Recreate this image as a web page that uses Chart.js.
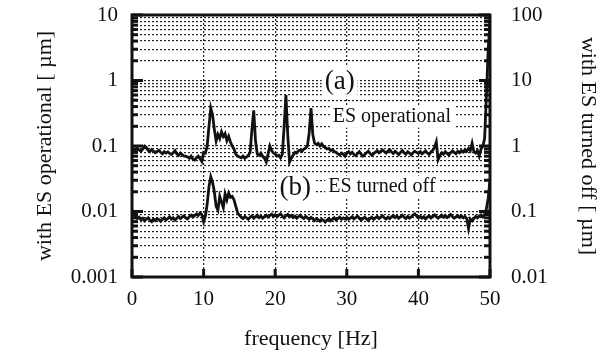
<!DOCTYPE html>
<html>
<head>
<meta charset="utf-8">
<script src="https://cdn.jsdelivr.net/npm/chart.js@4.4.1/dist/chart.umd.min.js"></script>
<style>
  html, body { margin: 0; padding: 0; background: #fff; }
  #wrap { width: 609px; height: 359px; }
</style>
</head>
<body>
<div id="wrap"><canvas id="spectrum" width="609" height="359"></canvas></div>
<script>
// frequency grid: 0 .. 50 Hz, 0.25 Hz steps
const freqStep = 0.25;

// (a) ES operational, left axis [um]
const esOperational = [
  0.09, 0.088, 0.085, 0.092, 0.087, 0.083, 0.09, 0.1, 0.095, 0.086, 0.082, 0.088, 0.084, 0.079, 0.083, 0.086, 0.08, 0.076, 0.082, 0.078,
  0.081, 0.077, 0.074, 0.079, 0.085, 0.076, 0.072, 0.078, 0.074, 0.07, 0.07, 0.068, 0.065, 0.07, 0.063, 0.061, 0.066, 0.07, 0.064, 0.058,
  0.08, 0.078, 0.1, 0.2, 0.38, 0.3, 0.18, 0.12, 0.15, 0.13, 0.165, 0.14, 0.155, 0.12, 0.14, 0.115, 0.1, 0.09, 0.075, 0.07,
  0.068, 0.066, 0.07, 0.065, 0.068, 0.072, 0.08, 0.18, 0.35, 0.12, 0.075, 0.072, 0.078, 0.07, 0.065, 0.057, 0.075, 0.1, 0.085, 0.078,
  0.075, 0.07, 0.072, 0.066, 0.075, 0.2, 0.6, 0.15, 0.057, 0.065, 0.072, 0.08, 0.078, 0.085, 0.087, 0.083, 0.09, 0.093, 0.1, 0.16,
  0.38, 0.15, 0.11, 0.105, 0.11, 0.1, 0.108, 0.098, 0.095, 0.09, 0.092, 0.085, 0.088, 0.082, 0.08, 0.076, 0.073, 0.078, 0.075, 0.07,
  0.078, 0.082, 0.076, 0.08, 0.074, 0.071, 0.077, 0.082, 0.075, 0.07, 0.074, 0.079, 0.083, 0.077, 0.072, 0.076, 0.081, 0.085, 0.079, 0.083,
  0.087, 0.082, 0.078, 0.084, 0.088, 0.081, 0.077, 0.083, 0.079, 0.074, 0.08, 0.085, 0.079, 0.075, 0.082, 0.078, 0.073, 0.079, 0.083, 0.08,
  0.077, 0.082, 0.076, 0.08, 0.084, 0.078, 0.074, 0.081, 0.086, 0.095, 0.115, 0.062, 0.072, 0.079, 0.075, 0.082, 0.077, 0.073, 0.079, 0.084,
  0.08, 0.076, 0.083, 0.079, 0.085, 0.081, 0.088, 0.083, 0.092, 0.085, 0.11, 0.082, 0.078, 0.085, 0.07, 0.09, 0.1, 0.13, 0.6, 3,
  8
];

// (b) ES turned off, right axis [um]
const esTurnedOff = [
  0.105, 0.09, 0.084, 0.078, 0.082, 0.075, 0.079, 0.072, 0.076, 0.08, 0.074, 0.07, 0.077, 0.073, 0.078, 0.075, 0.071, 0.076, 0.08, 0.074,
  0.078, 0.083, 0.076, 0.08, 0.074, 0.079, 0.084, 0.078, 0.082, 0.086, 0.08, 0.077, 0.083, 0.088, 0.082, 0.086, 0.092, 0.087, 0.095, 0.09,
  0.07, 0.085, 0.13, 0.24, 0.34, 0.28, 0.2, 0.12, 0.105, 0.17, 0.14, 0.115, 0.185, 0.15, 0.19, 0.165, 0.17, 0.15, 0.12, 0.095,
  0.088, 0.082, 0.078, 0.084, 0.08, 0.076, 0.082, 0.086, 0.079, 0.083, 0.088, 0.081, 0.085, 0.079, 0.084, 0.088, 0.082, 0.087, 0.091, 0.084,
  0.089, 0.083, 0.088, 0.092, 0.085, 0.08, 0.086, 0.09, 0.083, 0.087, 0.081, 0.085, 0.079, 0.083, 0.088, 0.082, 0.078, 0.084, 0.08, 0.076,
  0.081, 0.077, 0.073, 0.078, 0.075, 0.071, 0.076, 0.073, 0.069, 0.074, 0.078, 0.072, 0.076, 0.08, 0.074, 0.078, 0.082, 0.076, 0.08, 0.077,
  0.081, 0.076, 0.079, 0.083, 0.077, 0.081, 0.085, 0.079, 0.074, 0.078, 0.082, 0.077, 0.073, 0.078, 0.082, 0.076, 0.08, 0.084, 0.078, 0.082,
  0.086, 0.08, 0.077, 0.082, 0.078, 0.083, 0.087, 0.081, 0.085, 0.079, 0.083, 0.088, 0.082, 0.078, 0.084, 0.079, 0.083, 0.088, 0.092, 0.085,
  0.08, 0.084, 0.079, 0.083, 0.077, 0.082, 0.086, 0.08, 0.085, 0.089, 0.083, 0.079, 0.084, 0.088, 0.082, 0.087, 0.081, 0.085, 0.09, 0.084,
  0.079, 0.083, 0.087, 0.081, 0.086, 0.08, 0.084, 0.078, 0.055, 0.077, 0.072, 0.078, 0.084, 0.08, 0.085, 0.089, 0.083, 0.09, 0.11, 0.16,
  0.3
];

const freq = esOperational.map((_, i) => i * freqStep);

// axis ticks
const xTicks = [0, 10, 20, 30, 40, 50];
const leftDecades = [0.001, 0.01, 0.1, 1, 10];
const leftDecadeLabels = ['0.001', '0.01', '0.1', '1', '10'];
const rightDecades = [0.01, 0.1, 1, 10, 100];
const rightDecadeLabels = ['0.01', '0.1', '1', '10', '100'];
const minorSteps = [2, 3, 4, 5, 6, 7, 8, 9];

// curve annotations (x in Hz, y in left-axis units)
const notes = [
  { text: '(a)', x: 29.0, y: 0.95, size: 27 },
  { text: 'ES operational', x: 36.3, y: 0.28, size: 20 },
  { text: '(b)', x: 22.8, y: 0.023, size: 27 },
  { text: 'ES turned off', x: 34.9, y: 0.024, size: 20 }
];

const serif = "'Liberation Serif', 'DejaVu Serif', serif";

function logGrid(decades) {
  const out = [];
  decades.forEach((d, i) => {
    out.push(d);
    if (i < decades.length - 1) minorSteps.forEach(m => out.push(+(d * m).toPrecision(3)));
  });
  return out;
}

// fixed axis sizes so the plot box lands where the original has it
function fixWidth(w) {
  return s => { s.width = w; s.paddingTop = 0; s.paddingBottom = 0; };
}

const frameAndTicks = {
  id: 'frameAndTicks',
  afterDraw(chart) {
    const { ctx, chartArea: a, scales } = chart;
    ctx.save();
    ctx.strokeStyle = '#111';
    ctx.lineWidth = 3;
    const seg = (x1, y1, x2, y2) => { ctx.beginPath(); ctx.moveTo(x1, y1); ctx.lineTo(x2, y2); ctx.stroke(); };
    scales.y.ticks.forEach(t => {
      const y = scales.y.getPixelForValue(t.value);
      const len = leftDecades.includes(t.value) ? 11 : 6;
      seg(a.left, y, a.left + len, y);
      seg(a.right, y, a.right - len, y);
    });
    scales.x.ticks.forEach(t => {
      const x = scales.x.getPixelForValue(t.value);
      seg(x, a.bottom, x, a.bottom - 8);
    });
    ctx.strokeRect(a.left, a.top, a.right - a.left, a.bottom - a.top);
    ctx.restore();
  }
};

const curveNotes = {
  id: 'curveNotes',
  afterDatasetsDraw(chart) {
    const { ctx, scales } = chart;
    ctx.save();
    ctx.textAlign = 'center';
    ctx.textBaseline = 'middle';
    notes.forEach(n => {
      const x = scales.x.getPixelForValue(n.x);
      const y = scales.y.getPixelForValue(n.y);
      ctx.font = n.size + 'px ' + serif;
      const w = ctx.measureText(n.text).width;
      ctx.fillStyle = '#fff';
      ctx.fillRect(x - w / 2 - 3, y - n.size * 0.55, w + 6, n.size * 1.1);
      ctx.fillStyle = '#111';
      ctx.fillText(n.text, x, y);
    });
    ctx.restore();
  }
};

const ctx = document.getElementById('spectrum').getContext('2d');
new Chart(ctx, {
  type: 'line',
  data: {
    labels: freq,
    datasets: [
      {
        label: 'ES operational',
        data: freq.map((f, i) => ({ x: f, y: esOperational[i] })),
        yAxisID: 'y',
        borderColor: '#111',
        borderWidth: 2.8,
        pointRadius: 0,
        tension: 0
      },
      {
        label: 'ES turned off',
        data: freq.map((f, i) => ({ x: f, y: esTurnedOff[i] })),
        yAxisID: 'y1',
        borderColor: '#111',
        borderWidth: 2.8,
        pointRadius: 0,
        tension: 0
      }
    ]
  },
  options: {
    responsive: false,
    animation: false,
    devicePixelRatio: 1,
    layout: { padding: { top: 15, left: 0, right: 0, bottom: 0 } },
    plugins: { legend: { display: false }, tooltip: { enabled: false } },
    scales: {
      x: {
        type: 'linear',
        min: 0,
        max: 50,
        afterBuildTicks: s => { s.ticks = xTicks.map(v => ({ value: v })); },
        afterFit: s => { s.height = 82; s.paddingLeft = 0; s.paddingRight = 0; },
        grid: { color: '#222', lineWidth: 1.2, drawTicks: false },
        border: { display: false, dash: [2, 2] },
        ticks: { color: '#111', font: { family: serif, size: 21 }, padding: 10, maxRotation: 0 },
        title: { display: true, text: 'frequency [Hz]', color: '#111', font: { family: serif, size: 22 }, padding: { top: 0, bottom: 7 } }
      },
      y: {
        type: 'logarithmic',
        position: 'left',
        min: 0.001,
        max: 10,
        afterBuildTicks: s => { s.ticks = logGrid(leftDecades).map(v => ({ value: v })); },
        afterFit: fixWidth(132),
        grid: { color: '#222', lineWidth: 1.2, drawTicks: false },
        border: { display: false, dash: [2, 2] },
        ticks: {
          color: '#111', font: { family: serif, size: 21 }, padding: 14, autoSkip: false,
          callback: v => { const k = leftDecades.indexOf(v); return k >= 0 ? leftDecadeLabels[k] : ''; }
        },
        title: { display: true, text: 'with ES operational [ µm]', color: '#111', font: { family: serif, size: 22 }, padding: { top: 32, bottom: 0 } }
      },
      y1: {
        type: 'logarithmic',
        position: 'right',
        min: 0.01,
        max: 100,
        afterBuildTicks: s => { s.ticks = logGrid(rightDecades).map(v => ({ value: v })); },
        afterFit: fixWidth(119),
        grid: { display: false, drawOnChartArea: false },
        border: { display: false },
        ticks: {
          color: '#111', font: { family: serif, size: 21 }, padding: 13, autoSkip: false,
          callback: v => { const k = rightDecades.indexOf(v); return k >= 0 ? rightDecadeLabels[k] : ''; }
        },
        title: { display: true, text: 'with ES turned off [ µm]', color: '#111', font: { family: serif, size: 22 }, padding: { top: 8, bottom: 0 } }
      }
    }
  },
  plugins: [frameAndTicks, curveNotes]
});
</script>
</body>
</html>
